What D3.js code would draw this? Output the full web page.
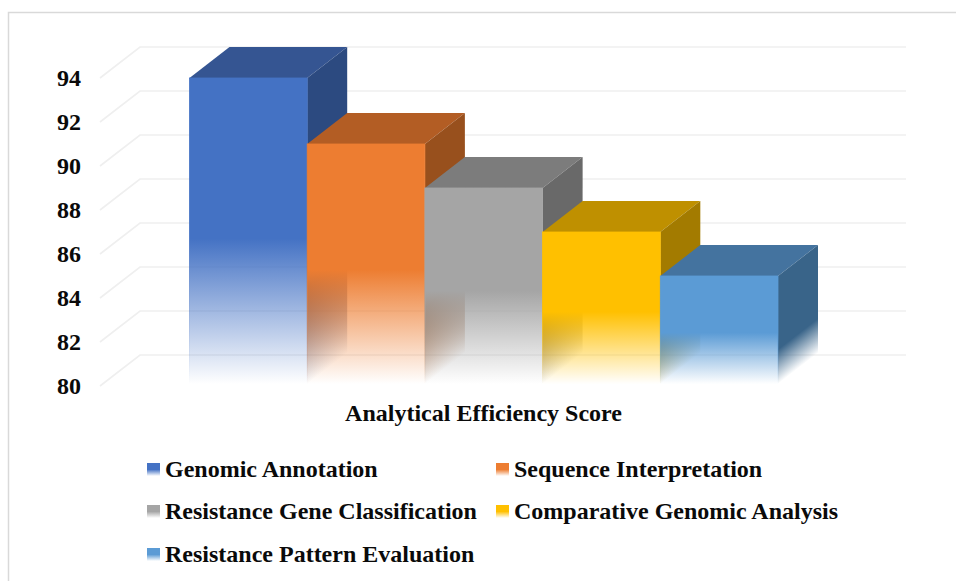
<!DOCTYPE html>
<html>
<head>
<meta charset="utf-8">
<script src="https://cdn.jsdelivr.net/npm/d3@7/dist/d3.min.js"></script>
<style>
  html, body { margin: 0; padding: 0; background: #fff; }
  text { font-family: "Liberation Serif", "Times New Roman", serif; font-weight: bold; fill: #0a0a0a; }
</style>
</head>
<body>
<svg id="chart" width="956" height="581"></svg>
<script>
// Chart content
const categories = ["Genomic Annotation", "Sequence Interpretation", "Resistance Gene Classification", "Comparative Genomic Analysis", "Resistance Pattern Evaluation"];
const scores = [94, 91, 89, 87, 85];
const yTicks = [80, 82, 84, 86, 88, 90, 92, 94];
const axisTitle = "Analytical Efficiency Score";

// Face colours for each series
const frontColors = ["#4472c4", "#ed7d31", "#a5a5a5", "#ffc000", "#5b9bd5"];
const topColors = ["#355592", "#b35d24", "#7c7c7c", "#bf9000", "#44739f"];
const sideColors = ["#2c4a80", "#98501d", "#696969", "#a37b00", "#396489"];

// Oblique projection offset from the front plane to the back wall
const depthX = 40, depthY = -31;

const svg = d3.select("#chart");
const defs = svg.append("defs");

const x = d3.scaleBand().domain(categories).range([189.5, 778]).padding(0);
const y = d3.scaleLinear().domain([80, 94]).range([386, 78]);
const floorY = 384;

// Vertical fade: solid through the upper half of a face, clear at its foot
function addFade(id, color, solidTo) {
  const g = defs.append("linearGradient").attr("id", id)
    .attr("x1", 0).attr("y1", 0).attr("x2", 0).attr("y2", 1);
  g.append("stop").attr("offset", 0).attr("stop-color", color).attr("stop-opacity", 1);
  g.append("stop").attr("offset", solidTo).attr("stop-color", color).attr("stop-opacity", 1);
  g.append("stop").attr("offset", 1).attr("stop-color", color).attr("stop-opacity", 0);
}
categories.forEach((c, i) => {
  addFade("front" + i, frontColors[i], 0.525);
  addFade("side" + i, sideColors[i], 0.68);
});

// Chart frame (top and left edges)
svg.append("path").attr("d", "M8.5,581V12.5H956").attr("fill", "none")
  .attr("stroke", "#d9d9d9").attr("stroke-width", 1.5);

// Gridlines: along the left wall, then across the back wall
const grid = svg.append("g").attr("fill", "none").attr("stroke", "#efefef").attr("stroke-width", 1.6);
yTicks.forEach(t => {
  grid.append("path").attr("d", d3.line()([
    [100, y(t)], [100 + depthX, y(t) + depthY], [906, y(t) + depthY]
  ]));
});

// Value axis labels
const axis = svg.append("g").attr("transform", "translate(81,0)")
  .call(d3.axisLeft(y).tickValues(yTicks).tickSize(0).tickPadding(0));
axis.select(".domain").remove();
axis.selectAll("text").attr("font-size", 24).attr("font-family", null).attr("dy", "0.3em");

// Bars, drawn left to right so each translucent foot shows the one behind it
const bars = svg.append("g");
categories.forEach((c, i) => {
  const x0 = x(c), x1 = x0 + x.bandwidth(), top = y(scores[i]);
  const g = bars.append("g");
  // Top face
  g.append("path").attr("fill", topColors[i]).attr("d", d3.line()([
    [x0, top], [x0 + depthX, top + depthY], [x1 + depthX, top + depthY], [x1, top]
  ]) + "Z");
  // Side face: a sheared rectangle, so its fade follows the receding edge
  g.append("rect")
    .attr("width", depthX).attr("height", floorY - top)
    .attr("transform", `matrix(1,${depthY / depthX},0,1,${x1},${top})`)
    .attr("fill", `url(#side${i})`);
  // Front face, with a fine edge that stays visible through the fade
  g.append("rect")
    .attr("x", x0).attr("y", top)
    .attr("width", x.bandwidth()).attr("height", floorY - top)
    .attr("fill", `url(#front${i})`)
    .attr("stroke", `url(#front${i})`).attr("stroke-width", 0.8);
});

// Axis title
svg.append("text").attr("x", 483.5).attr("y", 421).attr("text-anchor", "middle")
  .attr("font-size", 24).text(axisTitle);

// Legend: two columns, filled row by row
const legendCols = [147, 496], legendRows = [463, 505, 548];
const legend = svg.append("g");
categories.forEach((c, i) => {
  const lx = legendCols[i % 2], ly = legendRows[Math.floor(i / 2)];
  const item = legend.append("g").attr("transform", `translate(${lx},${ly})`);
  const sw = defs.append("linearGradient").attr("id", "swatch" + i)
    .attr("x1", 0).attr("y1", 0).attr("x2", 0).attr("y2", 1);
  sw.append("stop").attr("offset", 0.5).attr("stop-color", frontColors[i]);
  sw.append("stop").attr("offset", 1).attr("stop-color", frontColors[i]).attr("stop-opacity", 0);
  item.append("rect").attr("width", 13).attr("height", 13).attr("fill", `url(#swatch${i})`);
  item.append("text").attr("x", 18).attr("y", 14).attr("font-size", 24).text(c);
});
</script>
</body>
</html>
